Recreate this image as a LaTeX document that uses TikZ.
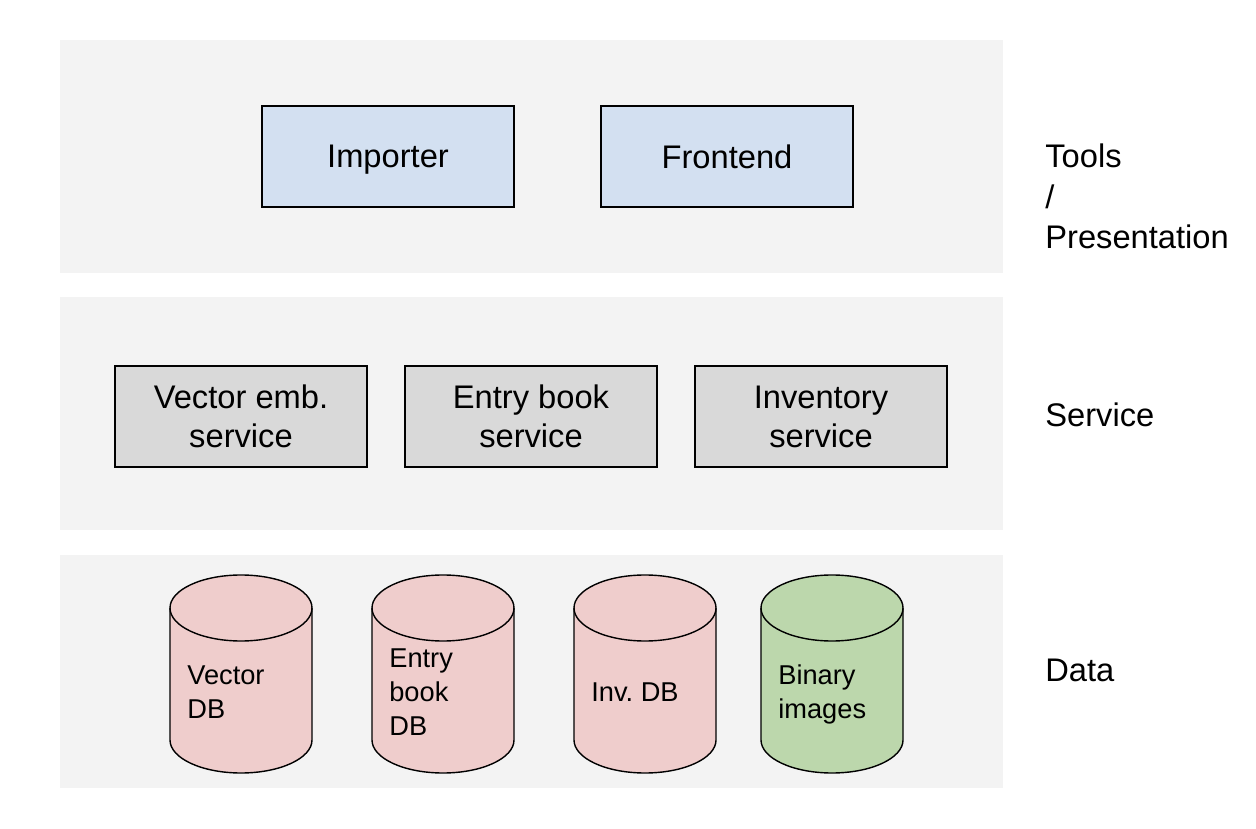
\documentclass[tikz,border=0pt]{standalone}
\usepackage{fontspec}
\setmainfont{Liberation Sans}
\definecolor{layerbg}{HTML}{F3F3F3}
\definecolor{toolblue}{HTML}{D3E0F1}
\definecolor{svcgray}{HTML}{D9D9D9}
\definecolor{dbred}{HTML}{EFCDCC}
\definecolor{dbgreen}{HTML}{BCD7AC}
\begin{document}
\begin{tikzpicture}[x=0.02cm, y=0.02cm,
			layer/.style = {fill=layerbg, minimum width=18.86cm, minimum height=4.66cm, inner sep=0pt},
			compbox/.style = {draw, line width=0.8pt, minimum width=5.04cm, minimum height=2.02cm, align=center, inner sep=0pt, text depth=0pt, font=\fontsize{18.6}{22.1}\selectfont},
			layerlabel/.style = {anchor=west, align=left, inner sep=0pt, font=\fontsize{18.6}{23}\selectfont},
			pics/dbcyl/.style 2 args = {code = {
				\draw[line width=0.8pt, fill=#1] (-71,0) -- (-71,-132) arc[start angle=180, end angle=360, x radius=71, y radius=33] -- (71,0) arc[start angle=0, end angle=180, x radius=71, y radius=33] -- cycle;
				\draw[line width=0.8pt] (-71,0) arc[start angle=180, end angle=360, x radius=71, y radius=33];
				\node[anchor=west, align=left, inner sep=0pt, text depth=0pt, font=\fontsize{15.5}{19.3}\selectfont] (-txt) at (-54,-84) {#2};
			}}
					]
			\useasboundingbox (0,0) rectangle (1256,828);
			\def\layerx{531.5}
			\def\labelx{1045}
			% layers
			\node[layer] (toolslayer) at (\layerx,671.5) {};
			\node[layer] (servicelayer) at (\layerx,414.5) {};
			\node[layer] (datalayer) at (\layerx,156.5) {};
			\node[layerlabel] (toolslabel) at (\labelx,631.5) {Tools\\/\\Presentation};
			\node[layerlabel] (servicelabel) at (\labelx,413) {Service};
			\node[layerlabel] (datalabel) at (\labelx,158) {Data};
			% tools
			\node[compbox, fill=toolblue] (importer) at (388,671.5) {Importer};
			\node[compbox, fill=toolblue] (frontend) at (727,671.5) {Frontend};
			% services
			\node[compbox, fill=svcgray] (vecsvc) at (241,411.5) {Vector emb.\\service};
			\node[compbox, fill=svcgray] (entrysvc) at (531,411.5) {Entry book\\service};
			\node[compbox, fill=svcgray] (invsvc) at (821,411.5) {Inventory\\service};
			% data
			\pic (vecdb) at (241,220) {dbcyl={dbred}{Vector\\DB}};
			\pic (entrydb) at (443,220) {dbcyl={dbred}{Entry\\book\\DB}};
			\pic (invdb) at (645,220) {dbcyl={dbred}{Inv.\ DB}};
			\pic (bindb) at (832,220) {dbcyl={dbgreen}{Binary\\images}};
		\end{tikzpicture}
\end{document}
